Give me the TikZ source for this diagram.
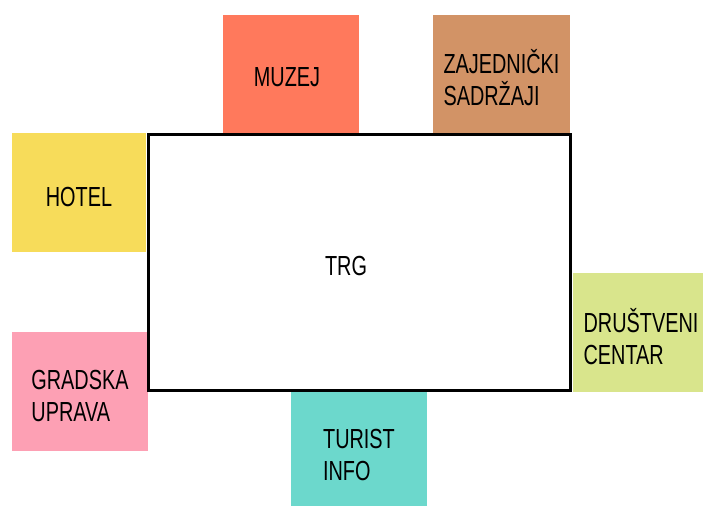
\documentclass[tikz,border=0pt]{standalone}
\usepackage{fontspec}
\setmainfont{Liberation Sans}[FakeStretch=0.72]
\usepackage{tikz}
\definecolor{muzejc}{RGB}{255,121,92}
\definecolor{zajedc}{RGB}{210,147,102}
\definecolor{hotelc}{RGB}{247,220,90}
\definecolor{gradc}{RGB}{253,160,180}
\definecolor{turistc}{RGB}{108,216,204}
\definecolor{drustc}{RGB}{217,229,140}

\begin{document}
\begin{tikzpicture}[x=0.5pt,y=-0.5pt,
		zone/.style={draw=none, minimum width=68pt, minimum height=59pt, inner sep=0pt},
		naziv/.style={align=left, inner sep=0pt, font=\fontsize{13.8}{16}\selectfont, yshift=-2pt}]
		\useasboundingbox (0,0) rectangle (703,505);
		\node[zone, fill=muzejc] (muzej) at (291,73.5) {};
		\node[zone, fill=zajedc, minimum width=68.5pt] (zajed) at (501.5,73.5) {};
		\node[zone, fill=hotelc, minimum width=67pt, minimum height=59.5pt] (hotel) at (79,192.5) {};
		\node[zone, fill=gradc, minimum height=59.5pt] (grad) at (80,391.5) {};
		\node[zone, fill=turistc] (turist) at (359,450.5) {};
		\node[zone, fill=drustc, minimum height=59.5pt] (drust) at (641,332.5) {};
		\node[draw, line width=1.5pt, minimum width=211pt, minimum height=128pt, inner sep=0pt] (trg) at (359,262) {};
		\node[naziv, xshift=-2pt] (muzej-t) at (muzej) {MUZEJ};
		\node[naziv] (zajed-t) at (zajed) {ZAJEDNIČKI\\SADRŽAJI};
		\node[naziv] (hotel-t) at (hotel) {HOTEL};
		\node[naziv] (grad-t) at (grad) {GRADSKA\\UPRAVA};
		\node[naziv] (turist-t) at (turist) {TURIST\\INFO};
		\node[naziv] (drust-t) at (drust) {DRUŠTVENI\\CENTAR};
		\node[naziv, xshift=-6.5pt] (trg-t) at (trg) {TRG};
		\end{tikzpicture}
\end{document}
